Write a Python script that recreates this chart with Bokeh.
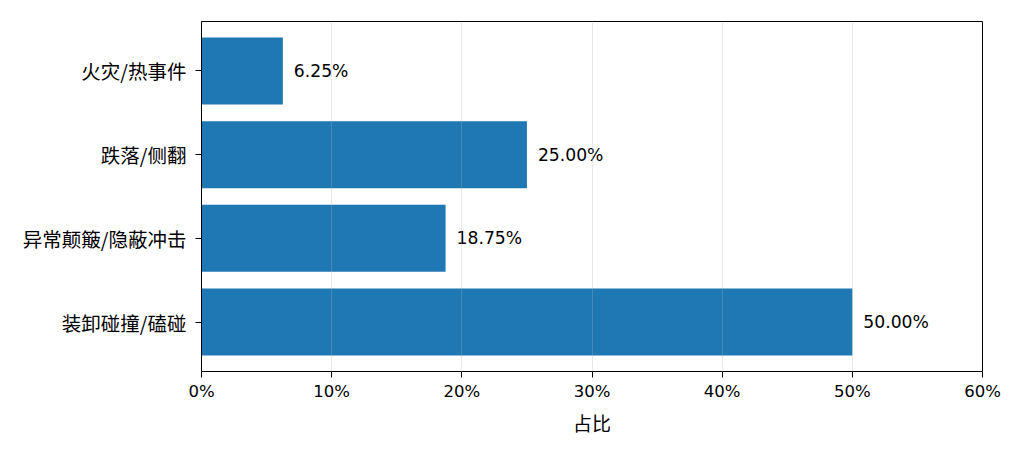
from bokeh.plotting import figure
from bokeh.models import Range1d, FixedTicker, ColumnDataSource, LabelSet
from bokeh.core.properties import value
from bokeh.embed import file_html
from bokeh.resources import INLINE

categories = ["装卸碰撞/磕碰", "异常颠簸/隐蔽冲击", "跌落/侧翻", "火灾/热事件"]
shares = [50.00, 18.75, 25.00, 6.25]
x_ticks = [0, 10, 20, 30, 40, 50, 60]
x_tick_labels = ["0%", "10%", "20%", "30%", "40%", "50%", "60%"]

NUM_FONT = "DejaVu Sans"
CJK_FONT = "Noto Sans CJK SC"
FS = "16.5px"
LABEL_FS = "17.2px"
CJK_FS = "19.5px"

pos = list(range(len(categories)))
src = ColumnDataSource(dict(y=pos, v=shares, lab=[f"{s:.2f}%" for s in shares]))

p = figure(width=1016, height=447, output_backend="svg", toolbar_location=None,
           x_range=Range1d(0, 60), y_range=Range1d(-0.59, len(categories) - 1 + 0.59),
           min_border_left=201, min_border_right=34, min_border_top=21, min_border_bottom=76)

p.hbar(y="y", right="v", left=0, height=0.8, source=src, color="#1f77b4", line_color=None)

labels = LabelSet(x="v", y="y", text="lab", source=src, x_offset=11,
                  text_baseline="middle", text_align="left",
                  text_font=value(NUM_FONT), text_font_size=value(LABEL_FS), text_color="black")
p.add_layout(labels)

p.xaxis.ticker = FixedTicker(ticks=x_ticks)
p.xaxis.major_label_overrides = {t: l for t, l in zip(x_ticks, x_tick_labels)}
p.yaxis.ticker = FixedTicker(ticks=pos)
p.yaxis.major_label_overrides = {i: c for i, c in zip(pos, categories)}
p.xaxis.axis_label = "占比"

for ax in (p.xaxis, p.yaxis):
    ax.minor_tick_line_color = None
    ax.major_tick_in = 0
    ax.major_tick_out = 6
    ax.major_tick_line_color = "black"
    ax.axis_line_color = "black"
    ax.major_label_text_color = "black"
    ax.axis_label_text_font = CJK_FONT
    ax.axis_label_text_font_size = "19px"
    ax.axis_label_text_font_style = "normal"
    ax.axis_label_text_color = "black"

p.xaxis.major_label_text_font = NUM_FONT
p.xaxis.major_label_text_font_size = FS
p.xaxis.major_label_standoff = 4
p.xaxis.axis_label_standoff = 5
p.yaxis.major_label_text_font = CJK_FONT
p.yaxis.major_label_text_font_size = CJK_FS
p.yaxis.major_label_standoff = 9

p.ygrid.grid_line_color = None
p.xgrid.grid_line_color = "#b0b0b0"
p.xgrid.grid_line_alpha = 0.3
p.xgrid.level = "overlay"
p.outline_line_color = "black"
p.outline_line_width = 1
p.outline_line_alpha = 1

open("out.html", "w").write(file_html(p, INLINE))
